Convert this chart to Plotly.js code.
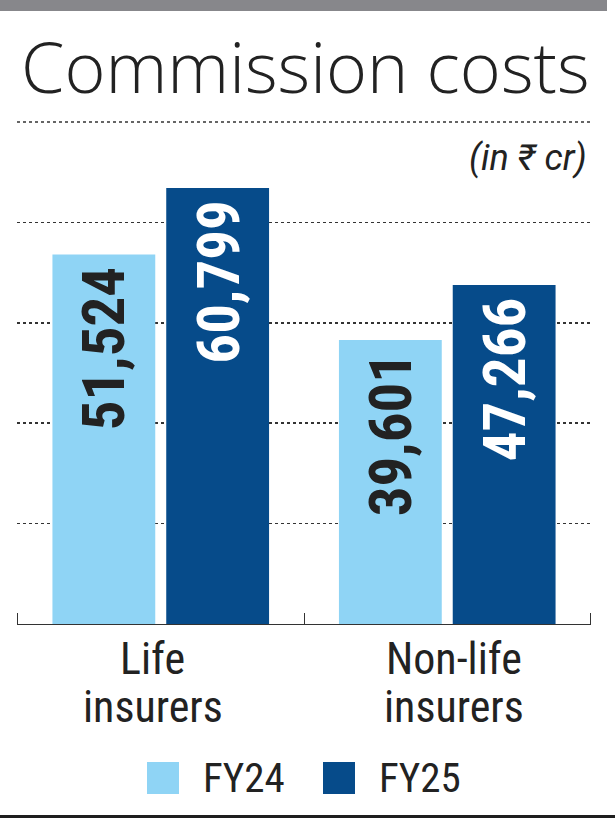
<!DOCTYPE html>
<html>
<head>
<meta charset="utf-8">
<script src="https://cdn.plot.ly/plotly-3.0.1.min.js"></script>
<style>
  html, body { margin: 0; padding: 0; background: #ffffff; }
  #chart { width: 615px; height: 818px; }
</style>
</head>
<body>
<div id="chart"></div>
<script>
// Commission costs of insurers, FY24 vs FY25 (in ₹ crore)
const categories = ['Life<br>insurers', 'Non-life<br>insurers'];
const seriesNames = ['FY24', 'FY25'];
const fy24 = [51524, 39601];
const fy25 = [60799, 47266];
const seriesValues = [fy24, fy25];
const seriesColors = ['#8fd4f5', '#064b8a'];
const valueLabelColors = ['#222222', '#ffffff'];
const titleText = 'Commission costs';
const unitText = '(in ₹ cr)';

// Page geometry
const W = 615, H = 818;
const M = { l: 17, r: 24, t: 187, b: 194 };
const plotW = W - M.l - M.r;
const plotH = H - M.t - M.b;
const BARGAP = 0.2056, BARGROUPGAP = 0.0965;

// pixel -> paper helpers for decorations outside the plot area
const px = x => (x - M.l) / plotW;
const py = y => (H - M.b - y) / plotH;

const NARROW = '"Liberation Sans Narrow", "Arial Narrow", "Roboto Condensed", "DejaVu Sans Condensed", sans-serif';

const traces = seriesNames.map((name, s) => ({
  type: 'bar',
  name: name,
  x: categories,
  y: seriesValues[s],
  marker: { color: seriesColors[s], line: { width: 0 } },
  showlegend: false,
  hoverinfo: 'none'
}));

const annotations = [];

// value labels, rotated, just below the top of each bar
const slot = (1 - BARGAP) / seriesNames.length;
seriesValues.forEach((vals, s) => {
  const off = (s - (seriesNames.length - 1) / 2) * slot;
  vals.forEach((v, i) => {
    annotations.push({
      xref: 'x', yref: 'y',
      x: i + off, y: v,
      text: v.toLocaleString('en-US'),
      textangle: -90,
      showarrow: false,
      xanchor: 'center', yanchor: 'top',
      yshift: -10,
      font: { family: NARROW, size: 59, weight: 'bold', color: valueLabelColors[s] }
    });
  });
});

// category labels, one annotation per line for tight leading
const catShift = [-8, 7];
categories.forEach((c, i) => {
  c.split('<br>').forEach((line, j) => {
    annotations.push({
      xref: 'x', yref: 'paper',
      x: i, y: py(658.5 + j * 48),
      text: line,
      showarrow: false,
      xanchor: 'center', yanchor: 'middle',
      xshift: catShift[i],
      font: { family: NARROW, size: 44, color: '#222222' }
    });
  });
});

// unit note
annotations.push({
  xref: 'paper', yref: 'paper',
  x: px(589), y: py(158),
  text: unitText,
  showarrow: false,
  xanchor: 'right', yanchor: 'middle',
  font: { family: 'Roboto, "Liberation Sans", sans-serif', size: 36, style: 'italic', color: '#222222' }
});

const shapes = [
  // grey strip along the top edge
  { type: 'rect', xref: 'paper', yref: 'paper', x0: px(0), x1: px(607), y0: py(0), y1: py(11),
    fillcolor: '#87878b', line: { width: 0 }, layer: 'above' },
  // dotted rule under the headline
  { type: 'line', xref: 'paper', yref: 'paper', x0: 0, x1: 1, y0: py(122), y1: py(122),
    line: { color: '#333333', width: 1.5, dash: 'dot' } },
  // black rule along the bottom edge
  { type: 'rect', xref: 'paper', yref: 'paper', x0: px(0), x1: px(W), y0: py(815), y1: py(H),
    fillcolor: '#1e1e1e', line: { width: 0 } }
];

// end ticks on the baseline at the outer category boundaries
[-0.5, categories.length - 0.5].forEach(xb => {
  shapes.push({
    type: 'line', xref: 'x', yref: 'paper',
    x0: xb, x1: xb, y0: 0, y1: 11 / plotH,
    line: { color: '#333333', width: 1 }
  });
});

// legend: coloured squares with series names
const legendSquareX = [147, 323];
seriesNames.forEach((name, s) => {
  const x0 = legendSquareX[s];
  shapes.push({
    type: 'rect', xref: 'paper', yref: 'paper',
    x0: px(x0), x1: px(x0 + 32), y0: py(762), y1: py(794),
    fillcolor: seriesColors[s], line: { width: 0 }
  });
  annotations.push({
    xref: 'paper', yref: 'paper',
    x: px(x0 + 54), y: py(777.5),
    text: name,
    showarrow: false,
    xanchor: 'left', yanchor: 'middle',
    font: { family: NARROW, size: 41, color: '#222222' }
  });
});

const layout = {
  width: W, height: H,
  margin: M,
  paper_bgcolor: '#ffffff',
  plot_bgcolor: '#ffffff',
  barmode: 'group',
  bargap: BARGAP,
  bargroupgap: BARGROUPGAP,
  title: {
    text: titleText,
    xref: 'container', yref: 'container',
    x: 21 / W, xanchor: 'left',
    y: 1 - 68 / H, yanchor: 'middle',
    font: { family: '"Open Sans", "Noto Sans", sans-serif', size: 70, weight: 300, color: '#222222' }
  },
  xaxis: {
    type: 'category',
    showticklabels: false,
    showline: true, linecolor: '#333333', linewidth: 1,
    ticks: 'inside', tickson: 'boundaries', ticklen: 11, tickwidth: 1, tickcolor: '#333333',
    showgrid: false, zeroline: false, fixedrange: true
  },
  yaxis: {
    range: [0, 60940],
    tick0: 0, dtick: 14000,
    showticklabels: false, ticks: '',
    showgrid: true, gridcolor: '#333333', gridwidth: 1.5, griddash: 'dot',
    zeroline: false, showline: false, fixedrange: true
  },
  annotations: annotations,
  shapes: shapes,
  showlegend: false
};

Plotly.newPlot('chart', traces, layout, { displayModeBar: false, staticPlot: true });
</script>
</body>
</html>
